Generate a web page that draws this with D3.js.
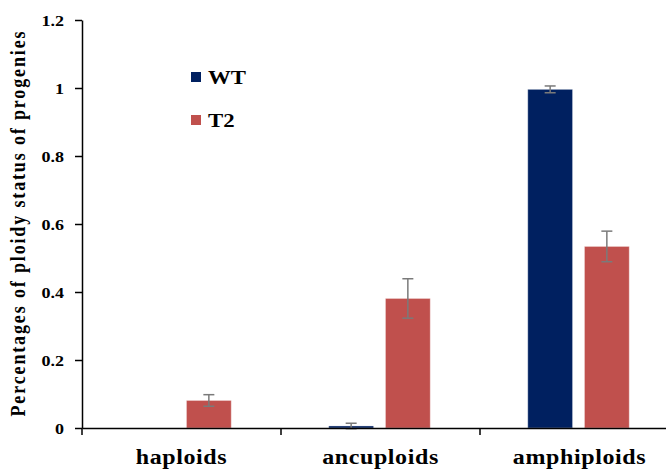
<!DOCTYPE html>
<html lang="en">
<head>
<meta charset="utf-8">
<title>ploidy status</title>
<script src="https://cdn.jsdelivr.net/npm/d3@7"></script>
<style>
  body { margin: 0; background: #fff; }
  svg text { font-family: "Liberation Serif", "Times New Roman", Times, serif !important; font-weight: bold; fill: #000; }
</style>
</head>
<body>
<svg id="chart" width="666" height="471"></svg>
<script type="text/javascript">
// data
var categories = ["haploids", "ancuploids", "amphiploids"];
var series = ["WT", "T2"];
var wtValues = [0, 0.006, 0.996];
var wtErrors = [0, 0.008, 0.01];
var t2Values = [0.081, 0.381, 0.534];
var t2Errors = [0.017, 0.058, 0.045];
var yTicks = [0, 0.2, 0.4, 0.6, 0.8, 1, 1.2];
var colors = { WT: "#002060", T2: "#c0504d" };

var svg = d3.select("#chart");
var stretch = 1.2; // text in the original looks wider than it is tall

var y = d3.scaleLinear().domain([0, 1.2]).range([428, 20]);
var x0 = d3.scaleBand().domain(categories).range([82, 679]).padding(0);
var bw = x0.bandwidth();
var x1 = d3.scaleBand().domain(series).range([bw * 0.24, bw * 0.75]).paddingInner(0.21);

// bars
var rows = [];
categories.forEach(function(c, i) {
  rows.push({ cat: c, key: "WT", v: wtValues[i], e: wtErrors[i] });
  rows.push({ cat: c, key: "T2", v: t2Values[i], e: t2Errors[i] });
});

svg.append("g").selectAll("rect")
  .data(rows.filter(function(d) { return d.v > 0; }))
  .enter().append("rect")
    .attr("x", function(d) { return x0(d.cat) + x1(d.key); })
    .attr("y", function(d) { return y(d.v); })
    .attr("width", x1.bandwidth())
    .attr("height", function(d) { return y(0) - y(d.v); })
    .attr("fill", function(d) { return colors[d.key]; })
    .attr("stroke", "rgba(255,255,255,0.35)")
    .attr("stroke-width", 1);

// error bars
var eb = svg.append("g").attr("stroke", "#7a7a7a").attr("stroke-width", 1.5);
rows.filter(function(d) { return d.e > 0; }).forEach(function(d) {
  var cx = x0(d.cat) + x1(d.key) + x1.bandwidth() / 2;
  eb.append("line").attr("x1", cx).attr("x2", cx).attr("y1", y(d.v + d.e)).attr("y2", y(d.v - d.e));
  eb.append("line").attr("x1", cx - 5.5).attr("x2", cx + 5.5).attr("y1", y(d.v + d.e)).attr("y2", y(d.v + d.e));
  eb.append("line").attr("x1", cx - 5.5).attr("x2", cx + 5.5).attr("y1", y(d.v - d.e)).attr("y2", y(d.v - d.e));
});

// y axis
var yAxis = svg.append("g")
  .attr("transform", "translate(82,0)")
  .call(d3.axisLeft(y).tickValues(yTicks).tickSize(7).tickSizeOuter(0).tickFormat(d3.format("~g")));
yAxis.attr("font-family", null);
yAxis.select(".domain").attr("stroke", "#000").attr("stroke-width", 1.5);
yAxis.selectAll(".tick line").attr("stroke", "#000").attr("stroke-width", 1.5);
yAxis.selectAll(".tick text")
  .attr("font-size", 15)
  .attr("x", -18 / stretch)
  .attr("dy", "0.35em")
  .attr("transform", "scale(" + stretch + ",1)");

// x axis: line with ticks on the category boundaries
var xAxis = svg.append("g")
  .attr("transform", "translate(0,428)")
  .call(d3.axisBottom(x0).tickSize(0).tickSizeOuter(0).tickFormat(""));
xAxis.select(".domain").attr("stroke", "#000").attr("stroke-width", 1.5);
var bounds = categories.map(function(c) { return x0(c); }).concat([x0.range()[1]]);
xAxis.selectAll(".bound").data(bounds).enter().append("line")
  .attr("class", "bound")
  .attr("x1", function(d) { return d; }).attr("x2", function(d) { return d; })
  .attr("y1", 0).attr("y2", 7)
  .attr("stroke", "#000").attr("stroke-width", 1.5);

svg.append("g").selectAll("text")
  .data(categories).enter().append("text")
    .attr("transform", function(c) { return "translate(" + (x0(c) + bw / 2) + ",464) scale(" + stretch + ",1)"; })
    .attr("text-anchor", "middle")
    .attr("font-size", 20)
    .attr("letter-spacing", 0.5)
    .text(function(c) { return c; });

// y axis title
svg.append("text")
  .attr("transform", "translate(25,224) scale(" + stretch + ",1) rotate(-90)")
  .attr("text-anchor", "middle")
  .attr("font-size", 18)
  .attr("textLength", 385)
  .attr("lengthAdjust", "spacing")
  .text("Percentages of ploidy  status of progenies");

// legend
var legend = svg.append("g").selectAll("g")
  .data(series).enter().append("g")
    .attr("transform", function(d, i) { return "translate(191," + (72 + i * 43) + ")"; });
legend.append("rect")
  .attr("width", 10).attr("height", 10)
  .attr("fill", function(d) { return colors[d]; });
legend.append("text")
  .attr("transform", "translate(17,12) scale(" + stretch + ",1)")
  .attr("font-size", 19)
  .text(function(d) { return d; });
</script>
</body>
</html>
